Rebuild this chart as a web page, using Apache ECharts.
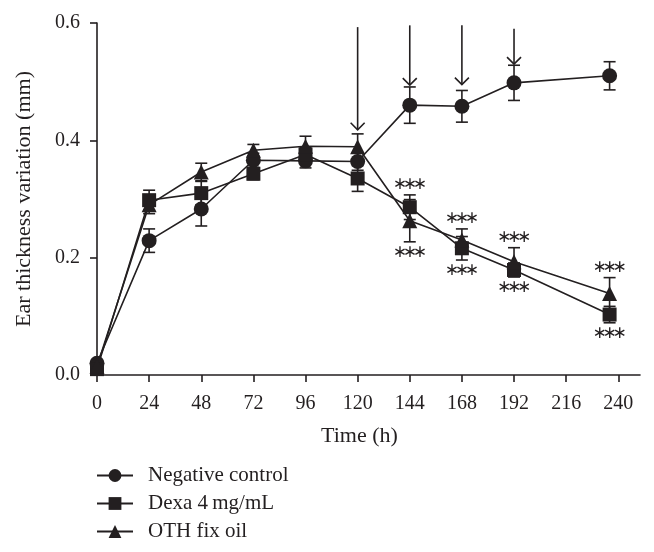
<!DOCTYPE html>
<html>
<head>
<meta charset="utf-8">
<script src="https://cdn.jsdelivr.net/npm/echarts@6/dist/echarts.min.js"></script>
<style>
html,body{margin:0;padding:0;background:#fff;}
#chart{width:654px;height:552px;}
</style>
</head>
<body>
<div id="chart"></div>
<script>
const times = [0, 24, 48, 72, 96, 120, 144, 168, 192, 236];
const negMean = [0.020, 0.229, 0.283, 0.366, 0.365, 0.364, 0.460, 0.458, 0.498, 0.510];
const negSE   = [0.005, 0.020, 0.029, 0.012, 0.012, 0.015, 0.031, 0.027, 0.030, 0.024];
const dexaMean = [0.010, 0.298, 0.310, 0.343, 0.376, 0.335, 0.286, 0.216, 0.179, 0.103];
const dexaSE   = [0.005, 0.017, 0.020, 0.010, 0.012, 0.022, 0.021, 0.020, 0.012, 0.014];
const othMean = [0.015, 0.290, 0.346, 0.383, 0.390, 0.389, 0.263, 0.230, 0.193, 0.139];
const othSE   = [0.005, 0.015, 0.015, 0.010, 0.017, 0.022, 0.036, 0.019, 0.024, 0.027];
const xTicks = [0, 24, 48, 72, 96, 120, 144, 168, 192, 216, 240];
const yTicks = [0, 0.2, 0.4, 0.6];
// arrows: [time, top value, head value]
const arrows = [[120, 0.593, 0.418], [144, 0.596, 0.494], [168, 0.596, 0.495], [192, 0.590, 0.530]];
// significance marks
const stars = [
  {t: 144, group: 'dexa', side: 'above'}, {t: 144, group: 'oth', side: 'below'},
  {t: 168, group: 'oth', side: 'above'},  {t: 168, group: 'dexa', side: 'below'},
  {t: 192, group: 'oth', side: 'above'},  {t: 192, group: 'dexa', side: 'below'},
  {t: 236, group: 'oth', side: 'above'},  {t: 236, group: 'dexa', side: 'below'}
];
const names = ['Negative control', 'Dexa 4\u2009mg/mL', 'OTH fix oil'];

const FONT = '"Liberation Serif", "DejaVu Serif", serif';
const INK = '#231f20';
const groups = {neg: [negMean, negSE], dexa: [dexaMean, dexaSE], oth: [othMean, othSE]};

function errData(mean, se) {
  return times.map((t, i) => [t, mean[i] - se[i], mean[i] + se[i]]);
}
function errSeries(mean, se) {
  return {
    type: 'custom', silent: true, z: 2,
    data: errData(mean, se),
    encode: {x: 0, y: [1, 2]},
    renderItem: function (params, api) {
      const x = api.value(0);
      const lo = api.coord([x, api.value(1)]);
      const hi = api.coord([x, api.value(2)]);
      const w = 6;
      const st = {stroke: INK, lineWidth: 1.6};
      return {type: 'group', children: [
        {type: 'line', shape: {x1: lo[0], y1: lo[1], x2: hi[0], y2: hi[1]}, style: st},
        {type: 'line', shape: {x1: hi[0] - w, y1: hi[1], x2: hi[0] + w, y2: hi[1]}, style: st},
        {type: 'line', shape: {x1: lo[0] - w, y1: lo[1], x2: lo[0] + w, y2: lo[1]}, style: st}
      ]};
    }
  };
}
function lineSeries(name, mean, symbol, size) {
  return {
    name: name, type: 'line', z: 3,
    data: times.map((t, i) => [t, mean[i]]),
    symbol: symbol, symbolSize: size, showAllSymbol: true,
    itemStyle: {color: INK},
    lineStyle: {color: INK, width: 1.6},
    emphasis: {disabled: true}
  };
}
const starData = stars.map(s => {
  const g = groups[s.group];
  const i = times.indexOf(s.t);
  const v = s.side === 'above' ? g[0][i] + g[1][i] : g[0][i] - g[1][i];
  return [s.t, v, s.side === 'above' ? 1 : -1];
});

const chart = echarts.init(document.getElementById('chart'), null, {renderer: 'canvas'});
chart.setOption({
  animation: false,
  backgroundColor: '#fff',
  grid: {left: 97, right: 14, top: 23, bottom: 177, containLabel: false},
  legend: {
    orient: 'vertical', left: 91, top: 460,
    itemWidth: 36, itemHeight: 16, itemGap: 7,
    textStyle: {fontFamily: FONT, fontSize: 21, color: INK, padding: [0, 0, 0, 10]},
    data: names
  },
  xAxis: {
    type: 'value', min: 0, max: 250, interval: 24,
    name: 'Time (h)', nameLocation: 'middle', nameGap: 50,
    nameTextStyle: {fontFamily: FONT, fontSize: 22, color: INK, padding: [0, 18, 0, 0]},
    axisLine: {lineStyle: {color: INK, width: 1.6}},
    axisTick: {length: 7, lineStyle: {color: INK, width: 1.6}, customValues: xTicks},
    axisLabel: {fontFamily: FONT, fontSize: 20, color: INK, margin: 19, customValues: xTicks},
    splitLine: {show: false}
  },
  yAxis: {
    type: 'value', min: 0, max: 0.6, interval: 0.2,
    name: 'Ear thickness variation (mm)', nameLocation: 'middle', nameGap: 62,
    nameTextStyle: {fontFamily: FONT, fontSize: 22, color: INK},
    axisLine: {show: true, lineStyle: {color: INK, width: 1.6}},
    axisTick: {show: true, length: 7, lineStyle: {color: INK, width: 1.6}, customValues: yTicks},
    axisLabel: {fontFamily: FONT, fontSize: 20, color: INK, margin: 17, customValues: yTicks,
      formatter: v => Number(v).toFixed(1)},
    splitLine: {show: false}
  },
  series: [
    errSeries(negMean, negSE),
    errSeries(dexaMean, dexaSE),
    errSeries(othMean, othSE),
    lineSeries(names[0], negMean, 'circle', 15),
    lineSeries(names[1], dexaMean, 'rect', 14),
    lineSeries(names[2], othMean, 'triangle', 15),
    {
      type: 'custom', silent: true, z: 4,
      data: arrows,
      encode: {x: 0, y: [1, 2]},
      renderItem: function (params, api) {
        const x = api.value(0);
        const top = api.coord([x, api.value(1)]);
        const head = api.coord([x, api.value(2)]);
        const st = {stroke: INK, lineWidth: 1.6, fill: null};
        return {type: 'group', children: [
          {type: 'line', shape: {x1: top[0], y1: top[1], x2: head[0], y2: head[1]}, style: st},
          {type: 'polyline', shape: {points: [[head[0] - 7, head[1] - 7], [head[0], head[1]], [head[0] + 7, head[1] - 7]]}, style: st}
        ]};
      }
    },
    {
      type: 'custom', silent: true, z: 4,
      data: starData,
      encode: {x: 0, y: 1},
      renderItem: function (params, api) {
        const p = api.coord([api.value(0), api.value(1)]);
        const up = api.value(2) > 0;
        const cy = up ? p[1] - 10 : p[1] + 11;
        const children = [-10, 0, 10].map(dx => ({
          type: 'text', x: p[0] + dx, y: cy,
          style: {text: '\u2217', fontFamily: '"DejaVu Sans", sans-serif', fontSize: 17, fill: INK,
            align: 'center', verticalAlign: 'middle'}
        }));
        return {type: 'group', children: children};
      }
    }
  ]
});
</script>
</body>
</html>
